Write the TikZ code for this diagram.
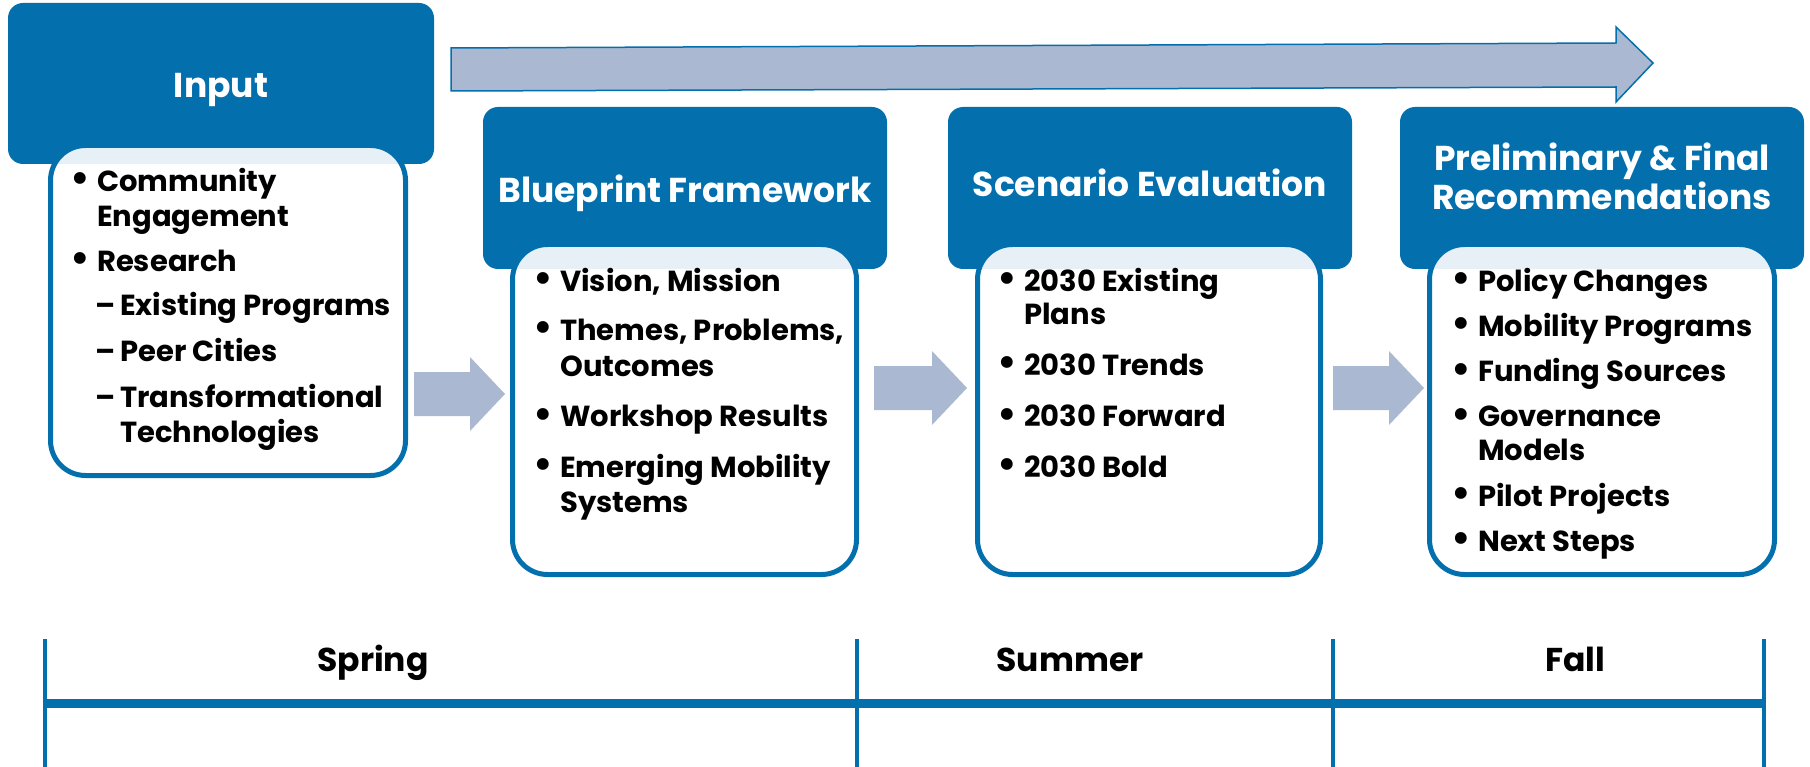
\documentclass[tikz,border=0pt]{standalone}
\usepackage{fontspec}
\usepackage{graphicx}
\setmainfont{Poppins}
\definecolor{hdrblue}{RGB}{3,111,172}
\definecolor{arwfill}{RGB}{170,185,209}
% bullet column of a list: dot near the left edge, text 17pt in
\newcommand\bl{\makebox[17pt][l]{\hspace{0.5pt}\makebox[0pt][c]{\scalebox{1.35}{\textbullet}}}}
% dash column of a sub-list
\newcommand\dsh{\makebox[23pt][l]{\hspace{-2pt}\textendash}}
% light block arrow: name of tip, left end x, middle y, total length
\newcommand\blockarrow[4]{%
  \path[arw] (#2,#3-22) -- (#2+#4-35,#3-22) -- (#2+#4-35,#3-37) -- (#2+#4,#3)
    -- (#2+#4-35,#3+37) -- (#2+#4-35,#3+22) -- (#2,#3+22) -- cycle;
  \coordinate (#1) at (#2+#4,#3);}
\begin{document}
\begin{tikzpicture}[x=1pt,y=-1pt,
  hdr/.style={fill=hdrblue, draw=none, rounded corners=15pt, inner sep=0pt},
  body/.style={fill=white, fill opacity=0.9, draw=hdrblue, draw opacity=1,
               line width=5pt, rounded corners=35pt, inner sep=0pt},
  ttl/.style={text=white, font=\fontsize{34.5}{39}\selectfont\bfseries, inner sep=0pt,
              anchor=base, align=center},
  lst/.style={inner sep=0pt, anchor=base west, font=\fontsize{29}{35}\selectfont\bfseries},
  season/.style={inner sep=0pt, anchor=base, font=\fontsize{33}{38}\selectfont\bfseries},
  arw/.style={fill=arwfill, draw=none},
  tick/.style={draw=hdrblue, line width=4pt},
]
\useasboundingbox (0,0) rectangle (1810,767);

% long process arrow along the top
\path[fill=arwfill, draw=hdrblue, line width=1.5pt, line join=miter]
  (451,48) -- (1616,43) -- (1616,27) -- (1653,63) -- (1616,102) -- (1616,87)
  -- (451,91) -- cycle;

% stage headers
\node (inH) [hdr, minimum width=426pt, minimum height=161pt] at (221,83.5) {};
\node (bpH) [hdr, minimum width=404pt, minimum height=162pt] at (685,188) {};
\node (scH) [hdr, minimum width=404pt, minimum height=162pt] at (1150,188) {};
\node (rcH) [hdr, minimum width=404pt, minimum height=162pt] at (1602,188) {};

% stage bodies
\node (inB) [body, minimum width=355pt, minimum height=330pt] at (228,310.5) {};
\node (bpB) [body, minimum width=344pt, minimum height=330pt] at (684.5,409.5) {};
\node (scB) [body, minimum width=343pt, minimum height=330pt] at (1149,409.5) {};
\node (rcB) [body, minimum width=345pt, minimum height=330pt] at (1602,409.5) {};

% titles
\node (inT) [ttl] at (221,98) {Input};
\node (bpT) [ttl] at (685,203) {Blueprint Framework};
\node (scT) [ttl] at (1150,197) {Scenario Evaluation};
\node (rcT) [ttl] at (1602,210) {Preliminary \& Final\\Recommendations};

% lists
\node (inL) [lst] at (80,192) {\begin{tabular}[t]{@{}l@{}l@{}}
  \bl & Community\\
      & Engagement\\[10pt]
  \bl & Research\\[9pt]
      & \dsh Existing Programs\\[11pt]
      & \dsh Peer Cities\\[11pt]
      & \dsh Transformational\\
      & \makebox[23pt][l]{}Technologies
\end{tabular}};

\node (bpL) [lst] at (543,292) {\begin{tabular}[t]{@{}l@{}l@{}}
  \bl & Vision, Mission\\[14pt]
  \bl & Themes, Problems,\\[1pt]
      & Outcomes\\[15pt]
  \bl & Workshop Results\\[16pt]
  \bl & Emerging Mobility\\
      & Systems
\end{tabular}};

\node (scL) [lst] at (1007,292) {\begin{tabular}[t]{@{}l@{}l@{}}
  \bl & 2030 Existing\\[-2pt]
      & Plans\\[16pt]
  \bl & 2030 Trends\\[16pt]
  \bl & 2030 Forward\\[16pt]
  \bl & 2030 Bold
\end{tabular}};

\node (rcL) [lst] at (1461,292) {\begin{tabular}[t]{@{}l@{}l@{}}
  \bl & Policy Changes\\[10pt]
  \bl & Mobility Programs\\[10pt]
  \bl & Funding Sources\\[10pt]
  \bl & Governance\\[-1pt]
      & Models\\[11pt]
  \bl & Pilot Projects\\[10pt]
  \bl & Next Steps
\end{tabular}};

% arrows between stages
\blockarrow{a1}{414}{394}{91}
\blockarrow{a2}{874}{388}{93}
\blockarrow{a3}{1333}{388}{91}

% season timeline
\coordinate (t0) at (45,703);
\coordinate (t3) at (1766,703);
\draw[hdrblue, line width=9pt] (t0) -- (t3);
\foreach \tx [count=\k] in {45,857,1333,1764} {
  \coordinate (tt\k) at (\tx,639);
  \coordinate (tb\k) at (\tx,767);
  \draw[tick] (tt\k) -- (tb\k);
}
\node (spring) [season] at (373,671) {Spring};
\node (summer) [season] at (1070,671) {Summer};
\node (fall)   [season] at (1575,671) {Fall};
\end{tikzpicture}
\end{document}
